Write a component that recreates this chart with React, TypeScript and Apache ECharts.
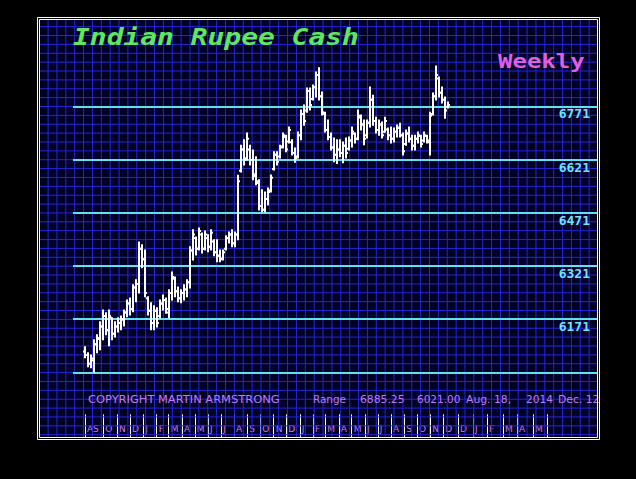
import React, { useEffect, useRef } from "react";
import * as echarts from "echarts";

// ---- Data (weekly OHLC, week 0 = Aug. 18, 2014) ----
const HIGH = [
  6093, 6076, 6070, 6113, 6127, 6164, 6197, 6189, 6197, 6175,
  6164, 6175, 6180, 6197, 6225, 6231, 6268, 6282, 6389, 6381,
  6366, 6234, 6217, 6209, 6203, 6225, 6239, 6231, 6254, 6304,
  6290, 6262, 6254, 6268, 6282, 6375, 6423, 6403, 6428, 6414,
  6420, 6409, 6423, 6395, 6395, 6366, 6366, 6406, 6417, 6423,
  6417, 6577, 6662, 6677, 6696, 6662, 6648, 6629, 6564, 6536,
  6530, 6541, 6578, 6643, 6643, 6662, 6696, 6690, 6713, 6677,
  6654, 6699, 6761, 6775, 6823, 6823, 6832, 6868, 6880, 6812,
  6755, 6733, 6696, 6682, 6677, 6677, 6671, 6682, 6685, 6713,
  6696, 6761, 6747, 6733, 6733, 6826, 6803, 6741, 6733, 6727,
  6741, 6710, 6713, 6710, 6719, 6724, 6696, 6705, 6713, 6690,
  6690, 6699, 6690, 6699, 6690, 6755, 6809, 6885.25, 6854, 6826,
  6798, 6784,
];
const LOW = [
  6062, 6037, 6034, 6021, 6076, 6085, 6113, 6127, 6096, 6113,
  6121, 6135, 6141, 6152, 6178, 6183, 6192, 6220, 6245, 6316,
  6234, 6183, 6141, 6141, 6149, 6175, 6197, 6188, 6175, 6225,
  6234, 6220, 6217, 6225, 6234, 6259, 6338, 6352, 6366, 6358,
  6366, 6361, 6366, 6350, 6333, 6333, 6338, 6366, 6386, 6375,
  6375, 6395, 6586, 6606, 6620, 6606, 6564, 6550, 6479, 6474,
  6474, 6493, 6530, 6592, 6606, 6626, 6654, 6643, 6668, 6634,
  6614, 6626, 6677, 6718, 6755, 6761, 6789, 6798, 6789, 6747,
  6699, 6677, 6648, 6615, 6610, 6629, 6612, 6626, 6648, 6657,
  6668, 6677, 6705, 6663, 6682, 6713, 6718, 6696, 6690, 6682,
  6699, 6677, 6668, 6671, 6685, 6685, 6634, 6662, 6671, 6648,
  6648, 6668, 6657, 6671, 6668, 6634, 6747, 6789, 6798, 6781,
  6738, 6767,
];
const OPEN = [
  6080, 6070, 6045, 6055, 6100, 6115, 6150, 6180, 6140, 6175,
  6130, 6150, 6160, 6170, 6190, 6215, 6200, 6260, 6270, 6370,
  6340, 6230, 6195, 6160, 6195, 6180, 6215, 6225, 6190, 6245,
  6285, 6250, 6230, 6245, 6255, 6275, 6365, 6400, 6370, 6410,
  6370, 6400, 6375, 6390, 6360, 6350, 6342, 6370, 6400, 6410,
  6385, 6410, 6590, 6650, 6625, 6650, 6620, 6580, 6555, 6490,
  6480, 6510, 6535, 6595, 6635, 6630, 6658, 6685, 6672, 6670,
  6640, 6630, 6690, 6750, 6760, 6815, 6792, 6825, 6860, 6800,
  6750, 6705, 6685, 6655, 6635, 6650, 6640, 6660, 6652, 6675,
  6694, 6680, 6740, 6720, 6690, 6725, 6790, 6730, 6705, 6720,
  6700, 6706, 6690, 6680, 6700, 6712, 6690, 6665, 6695, 6680,
  6660, 6680, 6688, 6675, 6688, 6670, 6750, 6800, 6850, 6810,
  6790, 6770,
];
const CLOSE = [
  6070, 6045, 6060, 6100, 6118, 6150, 6180, 6140, 6180, 6130,
  6150, 6160, 6170, 6190, 6215, 6200, 6260, 6270, 6370, 6340,
  6245, 6195, 6160, 6195, 6160, 6215, 6225, 6200, 6245, 6290,
  6250, 6230, 6245, 6255, 6275, 6365, 6410, 6370, 6420, 6370,
  6410, 6375, 6415, 6360, 6350, 6340, 6360, 6400, 6410, 6385,
  6410, 6560, 6650, 6620, 6680, 6620, 6575, 6560, 6490, 6480,
  6510, 6530, 6570, 6635, 6615, 6655, 6690, 6650, 6705, 6640,
  6625, 6690, 6750, 6730, 6815, 6775, 6825, 6860, 6800, 6755,
  6705, 6685, 6655, 6635, 6650, 6640, 6660, 6640, 6675, 6700,
  6680, 6745, 6720, 6680, 6725, 6790, 6730, 6705, 6720, 6690,
  6730, 6690, 6680, 6700, 6710, 6690, 6645, 6695, 6680, 6660,
  6680, 6690, 6665, 6690, 6675, 6745, 6800, 6860, 6810, 6790,
  6760, 6775,
];

// Horizontal reference levels
const LEVELS = [6771, 6621, 6471, 6321, 6171, 6021];
const LABELED_LEVELS = [6771, 6621, 6471, 6321, 6171];

// Month axis (in weeks since Aug. 18, 2014)
const TICK_WEEKS = [
  0, 6.1, 10.7, 15.0, 19.4, 23.9, 27.9, 32.3, 36.6, 41.0, 45.3, 49.7, 54.1,
  58.4, 62.9, 67.1, 71.6, 76.0, 80.1, 84.6, 88.9, 93.3, 97.6, 102.0, 106.4,
  110.7, 115.1, 119.4, 124.3, 129.3, 134.0, 139.3, 144.0, 149.3, 154.0,
];
const MONTH_LABELS = [
  "A", "S", "O", "N", "D",
  "J", "F", "M", "A", "M", "J", "J", "A", "S", "O", "N", "D",
  "J", "F", "M", "A", "M", "J", "J", "A", "S", "O", "N", "D",
  "D", "J", "F", "M", "A", "M",
];
const LABEL_WEEKS = [0, 2.0, ...TICK_WEEKS.slice(1, 34)];

const TITLE = "Indian Rupee Cash";
const SUBTITLE = "Weekly";
const COPYRIGHT = "COPYRIGHT MARTIN ARMSTRONG";
const DATE_FROM = "Aug. 18,";
const DATE_YEAR = "2014";
const DATE_TO = "Dec. 12";

export default function App() {
  const ref = useRef<HTMLDivElement>(null);

  useEffect(() => {
    if (!ref.current) return;
    const chart = echarts.init(ref.current, null, {
      renderer: "svg",
      width: 636,
      height: 479,
    });

    const data = HIGH.map((h, i) => [i, OPEN[i], CLOSE[i], LOW[i], h]);
    const maxHigh = Math.max(...HIGH).toFixed(2);
    const minLow = Math.min(...LOW).toFixed(2);

    // panel background grid (decoration)
    const STEP = 8.87;
    const PX0 = 40, PX1 = 597, PY0 = 20, PY1 = 437;
    const gridColor = "#2326d6";
    const gridLines: any[] = [];
    let gy = 106.5;
    while (gy - STEP > PY0) gy -= STEP;
    for (; gy < PY1; gy += STEP) {
      gridLines.push({
        type: "line",
        z: 1,
        silent: true,
        shape: { x1: PX0, y1: gy, x2: PX1, y2: gy },
        style: { stroke: gridColor, lineWidth: 1 },
      });
    }
    let gx = 74.7;
    while (gx - STEP > PX0) gx -= STEP;
    for (; gx < PX1; gx += STEP) {
      gridLines.push({
        type: "line",
        z: 1,
        silent: true,
        shape: { x1: gx, y1: PY0, x2: gx, y2: PY1 },
        style: { stroke: gridColor, lineWidth: 1 },
      });
    }

    const txt = (
      text: string,
      x: number,
      y: number,
      font: string,
      fill: string,
      scaleX = 1
    ) => ({
      type: "text",
      x,
      y,
      scaleX,
      z: 20,
      silent: true,
      style: {
        text,
        font,
        fill,
        align: "left",
        verticalAlign: "middle",
        textAlign: "left",
        textVerticalAlign: "middle",
      },
    });

    const smallFont = '10px "DejaVu Sans"';
    const smallColor = "#c27af0";

    const option: any = {
      animation: false,
      backgroundColor: "#000000",
      grid: { left: 73, right: 38, top: 53.33, bottom: 106.67 },
      xAxis: {
        type: "value",
        min: -4,
        max: 171,
        offset: 42,
        axisLine: { show: false },
        splitLine: { show: false },
        axisTick: {
          show: true,
          customValues: TICK_WEEKS,
          length: 23,
          lineStyle: { color: "#ffffff", width: 1 },
        },
        axisLabel: {
          customValues: LABEL_WEEKS,
          formatter: (v: number) => {
            const i = LABEL_WEEKS.findIndex((w) => Math.abs(w - v) < 1e-6);
            return i >= 0 ? MONTH_LABELS[i] : "";
          },
          align: "left",
          padding: [0, 0, 0, 2],
          margin: 10,
          color: "#d67ae6",
          fontFamily: "DejaVu Sans",
          fontSize: 9,
        },
      },
      yAxis: { type: "value", min: 6021, max: 6921, show: false },
      graphic: [
        {
          type: "rect",
          z: 0,
          silent: true,
          shape: { x: PX0, y: PY0, width: PX1 - PX0, height: PY1 - PY0 },
          style: { fill: "#000024" },
        },
        ...gridLines,
        txt(TITLE, 73, 37, 'italic bold 23px "DejaVu Sans Mono"', "#5fe85f", 1.215),
        txt(SUBTITLE, 498, 61, 'bold 20px "DejaVu Sans Mono"', "#e05ee0", 1.2),
        txt(COPYRIGHT, 88, 399.5, smallFont, smallColor, 1.145),
        txt("Range", 313, 399.5, smallFont, smallColor, 1.04),
        txt(maxHigh, 360, 399.5, smallFont, smallColor, 1.08),
        txt(minLow, 417, 399.5, smallFont, smallColor, 1.05),
        txt(DATE_FROM, 466, 399.5, smallFont, smallColor, 1.08),
        txt(DATE_YEAR, 526, 399.5, smallFont, smallColor, 1.06),
        txt(DATE_TO, 558, 399.5, smallFont, smallColor, 1.08),
        {
          type: "rect",
          z: 100,
          silent: true,
          shape: { x: 37.5, y: 17.5, width: 562, height: 422 },
          style: { fill: "none", stroke: "#ffffff", lineWidth: 1 },
        },
        {
          type: "rect",
          z: 100,
          silent: true,
          shape: { x: 39.5, y: 19.5, width: 558, height: 418 },
          style: { fill: "none", stroke: "#ffffff", lineWidth: 1 },
        },
      ],
      series: [
        {
          type: "custom",
          z: 10,
          data,
          encode: { x: 0, y: [1, 2, 3, 4] },
          renderItem: (params: any, api: any) => {
            const w = api.value(0);
            const o = api.coord([w, api.value(1)]);
            const c = api.coord([w, api.value(2)]);
            const l = api.coord([w, api.value(3)]);
            const h = api.coord([w, api.value(4)]);
            const st = { stroke: "#ffffff", lineWidth: 2 };
            return {
              type: "group",
              children: [
                { type: "line", shape: { x1: h[0], y1: h[1] - 0.5, x2: l[0], y2: l[1] + 0.5 }, style: st },
                { type: "line", shape: { x1: o[0] - 2, y1: o[1], x2: o[0], y2: o[1] }, style: st },
                { type: "line", shape: { x1: c[0], y1: c[1], x2: c[0] + 2, y2: c[1] }, style: st },
              ],
            };
          },
          markLine: {
            silent: true,
            symbol: "none",
            animation: false,
            lineStyle: { color: "#5fe3f2", width: 2.2, type: "solid" },
            label: {
              show: true,
              position: "insideEndBottom",
              formatter: "{c}",
              color: "#6ee6f4",
              fontFamily: "DejaVu Sans Mono",
              fontWeight: "bold",
              fontSize: 13,
              distance: [8, 1],
            },
            data: LEVELS.map((v) => ({
              yAxis: v,
              label: { show: LABELED_LEVELS.includes(v) },
            })),
          },
        },
      ],
    };

    chart.setOption(option);
    return () => chart.dispose();
  }, []);

  return (
    <div
      ref={ref}
      style={{
        position: "fixed",
        left: 0,
        top: 0,
        width: 636,
        height: 479,
        background: "#000",
      }}
    />
  );
}
